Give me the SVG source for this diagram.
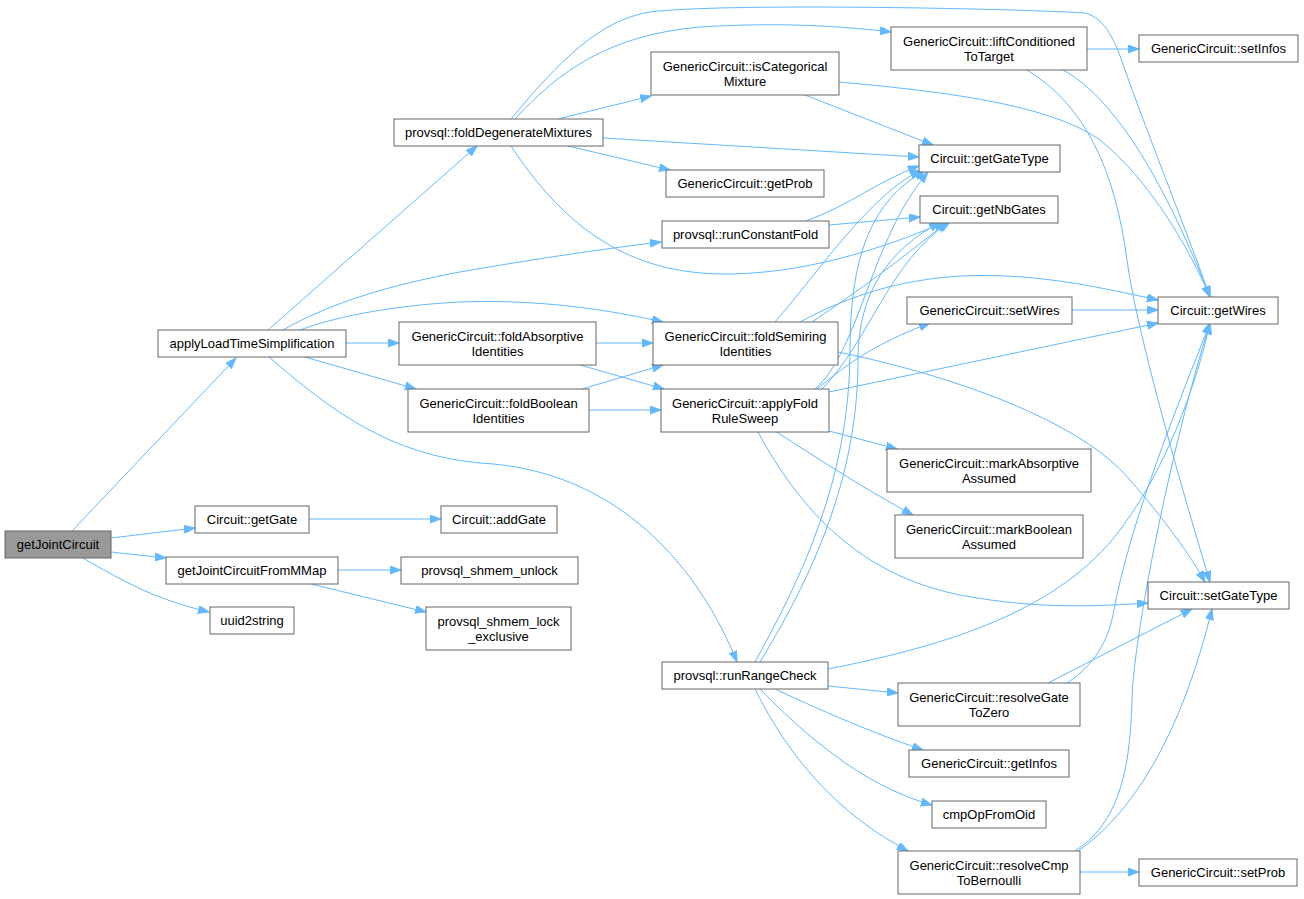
<svg xmlns="http://www.w3.org/2000/svg" width="1304" height="899" viewBox="0 0 1304 899">
<defs>
<style>
.n rect{fill:#fff;stroke:#666;stroke-width:1}
.n.root rect{fill:#999}
.n text{font-family:"Liberation Sans",Arial,Helvetica,sans-serif;font-size:13px;fill:#000;text-anchor:middle}
#edges path{fill:none;stroke:#63b8ff;stroke-width:1;marker-end:url(#ah)}
</style>
<marker id="ah" markerUnits="userSpaceOnUse" markerWidth="12" markerHeight="10" refX="11" refY="4" orient="auto">
<path d="M0,0 L11,4 L0,8 z" fill="#63b8ff" stroke="#63b8ff" stroke-width="1"/>
</marker>
</defs>
<rect width="1304" height="899" fill="#fff"/>
<g id="edges">
<path d="M72,531 L236,358"/>
<path d="M111,538 L195,528"/>
<path d="M111,552 L166,558"/>
<path d="M83,558 C110,574 140,590 160,597 C175,603 192,608 209,612"/>
<path d="M268,330 L477,146"/>
<path d="M283,330 C330,303 390,285 460,272 C540,258 610,248 661,242"/>
<path d="M300,330 C340,315 400,305 460,302 C540,299 610,310 663,322"/>
<path d="M346,343 L399,343"/>
<path d="M305,357 L416,389"/>
<path d="M269,357 C330,410 390,455 480,463 C620,470 700,570 737,662"/>
<path d="M515,119 C560,70 610,35 700,27 C780,22 840,26 891,32"/>
<path d="M511,119 C560,60 600,20 650,12 C720,3 1000,8 1085,13 C1105,18 1115,40 1125,70 C1150,140 1190,240 1210,297"/>
<path d="M558,119 L651,96"/>
<path d="M603,138 L919,157"/>
<path d="M568,146 L670,170"/>
<path d="M511,146 C560,220 620,272 720,274 C800,275 880,250 945,222"/>
<path d="M805,95 L933,145"/>
<path d="M839,82 C950,92 1050,105 1100,140 C1150,180 1190,250 1210,297"/>
<path d="M1087,49 L1139,49"/>
<path d="M1063,70 C1110,95 1160,170 1210,297"/>
<path d="M1027,70 C1085,105 1115,170 1127,260 C1135,320 1170,450 1210,582"/>
<path d="M806,221 C850,205 880,180 919,166"/>
<path d="M829,225 L920,217"/>
<path d="M596,343 L653,343"/>
<path d="M580,365 L664,389"/>
<path d="M582,389 L663,365"/>
<path d="M589,410 L661,410"/>
<path d="M775,322 C820,270 870,195 921,170"/>
<path d="M812,322 C860,290 900,260 947,222"/>
<path d="M800,322 C850,295 900,280 960,276 C1040,272 1110,290 1158,300"/>
<path d="M838,352 C950,375 1080,420 1130,480 C1165,520 1190,555 1205,582"/>
<path d="M1072,310 L1158,310"/>
<path d="M817,389 C840,370 870,345 930,323"/>
<path d="M829,392 L1158,323"/>
<path d="M815,389 C860,350 870,240 928,172"/>
<path d="M822,389 C870,340 890,260 950,222"/>
<path d="M829,431 L897,449"/>
<path d="M775,431 C820,460 870,492 913,515"/>
<path d="M758,432 C800,510 860,575 960,595 C1040,610 1100,606 1148,603"/>
<path d="M755,662 C800,580 850,480 850,350 C850,260 870,200 925,171"/>
<path d="M760,662 C810,580 858,480 858,360 C858,290 890,250 940,222"/>
<path d="M828,669 C950,645 1060,610 1120,530 C1165,470 1195,390 1210,323"/>
<path d="M828,686 L898,693"/>
<path d="M775,689 C820,710 870,732 923,750"/>
<path d="M760,689 C800,730 860,785 932,805"/>
<path d="M755,689 C790,760 840,815 908,851"/>
<path d="M1048,683 L1192,609"/>
<path d="M1067,683 C1095,665 1108,640 1113,615 C1130,520 1180,400 1210,323"/>
<path d="M1075,851 C1115,825 1130,780 1132,700 C1133,640 1170,450 1210,323"/>
<path d="M1078,851 C1130,815 1180,740 1212,609"/>
<path d="M1080,872 L1139,872"/>
<path d="M338,570 L401,570"/>
<path d="M311,584 L426,612"/>
<path d="M309,519 L441,519"/>
</g>
<g id="n0" class="n root"><rect x="5" y="531" width="106" height="27"/><text x="58" y="549">getJointCircuit</text></g>
<g id="n1" class="n"><rect x="158" y="330" width="188" height="27"/><text x="252" y="348">applyLoadTimeSimplification</text></g>
<g id="n2" class="n"><rect x="195" y="506" width="114" height="27"/><text x="252" y="524">Circuit::getGate</text></g>
<g id="n3" class="n"><rect x="166" y="557" width="172" height="27"/><text x="252" y="575">getJointCircuitFromMMap</text></g>
<g id="n4" class="n"><rect x="210" y="607" width="84" height="27"/><text x="252" y="625">uuid2string</text></g>
<g id="n5" class="n"><rect x="394" y="119" width="209" height="27"/><text x="498.5" y="137">provsql::foldDegenerateMixtures</text></g>
<g id="n6" class="n"><rect x="651" y="52" width="188" height="43"/><text x="745" y="71">GenericCircuit::isCategorical</text><text x="745" y="86">Mixture</text></g>
<g id="n7" class="n"><rect x="666" y="170" width="158" height="27"/><text x="745" y="188">GenericCircuit::getProb</text></g>
<g id="n8" class="n"><rect x="662" y="221" width="167" height="27"/><text x="745.5" y="239">provsql::runConstantFold</text></g>
<g id="n9" class="n"><rect x="891" y="27" width="196" height="43"/><text x="989" y="46">GenericCircuit::liftConditioned</text><text x="989" y="61">ToTarget</text></g>
<g id="n10" class="n"><rect x="1139" y="35" width="159" height="27"/><text x="1218.5" y="53">GenericCircuit::setInfos</text></g>
<g id="n11" class="n"><rect x="919" y="145" width="141" height="27"/><text x="989.5" y="163">Circuit::getGateType</text></g>
<g id="n12" class="n"><rect x="920" y="196" width="138" height="27"/><text x="989" y="214">Circuit::getNbGates</text></g>
<g id="n13" class="n"><rect x="1158" y="297" width="120" height="27"/><text x="1218" y="315">Circuit::getWires</text></g>
<g id="n14" class="n"><rect x="907" y="297" width="165" height="27"/><text x="989.5" y="315">GenericCircuit::setWires</text></g>
<g id="n15" class="n"><rect x="399" y="322" width="197" height="43"/><text x="497.5" y="341">GenericCircuit::foldAbsorptive</text><text x="497.5" y="356">Identities</text></g>
<g id="n16" class="n"><rect x="408" y="389" width="181" height="43"/><text x="498.5" y="408">GenericCircuit::foldBoolean</text><text x="498.5" y="423">Identities</text></g>
<g id="n17" class="n"><rect x="653" y="322" width="185" height="43"/><text x="745.5" y="341">GenericCircuit::foldSemiring</text><text x="745.5" y="356">Identities</text></g>
<g id="n18" class="n"><rect x="661" y="389" width="168" height="43"/><text x="745" y="408">GenericCircuit::applyFold</text><text x="745" y="423">RuleSweep</text></g>
<g id="n19" class="n"><rect x="441" y="506" width="116" height="27"/><text x="499" y="524">Circuit::addGate</text></g>
<g id="n20" class="n"><rect x="401" y="557" width="177" height="27"/><text x="489.5" y="575">provsql_shmem_unlock</text></g>
<g id="n21" class="n"><rect x="426" y="607" width="145" height="43"/><text x="498.5" y="626">provsql_shmem_lock</text><text x="498.5" y="641">_exclusive</text></g>
<g id="n22" class="n"><rect x="662" y="662" width="166" height="27"/><text x="745" y="680">provsql::runRangeCheck</text></g>
<g id="n23" class="n"><rect x="887" y="449" width="204" height="43"/><text x="989" y="468">GenericCircuit::markAbsorptive</text><text x="989" y="483">Assumed</text></g>
<g id="n24" class="n"><rect x="895" y="515" width="188" height="43"/><text x="989" y="534">GenericCircuit::markBoolean</text><text x="989" y="549">Assumed</text></g>
<g id="n25" class="n"><rect x="1148" y="582" width="141" height="27"/><text x="1218.5" y="600">Circuit::setGateType</text></g>
<g id="n26" class="n"><rect x="898" y="683" width="182" height="43"/><text x="989" y="702">GenericCircuit::resolveGate</text><text x="989" y="717">ToZero</text></g>
<g id="n27" class="n"><rect x="909" y="750" width="160" height="27"/><text x="989" y="768">GenericCircuit::getInfos</text></g>
<g id="n28" class="n"><rect x="932" y="801" width="114" height="27"/><text x="989" y="819">cmpOpFromOid</text></g>
<g id="n29" class="n"><rect x="898" y="851" width="182" height="43"/><text x="989" y="870">GenericCircuit::resolveCmp</text><text x="989" y="885">ToBernoulli</text></g>
<g id="n30" class="n"><rect x="1139" y="859" width="158" height="27"/><text x="1218" y="877">GenericCircuit::setProb</text></g>
</svg>
